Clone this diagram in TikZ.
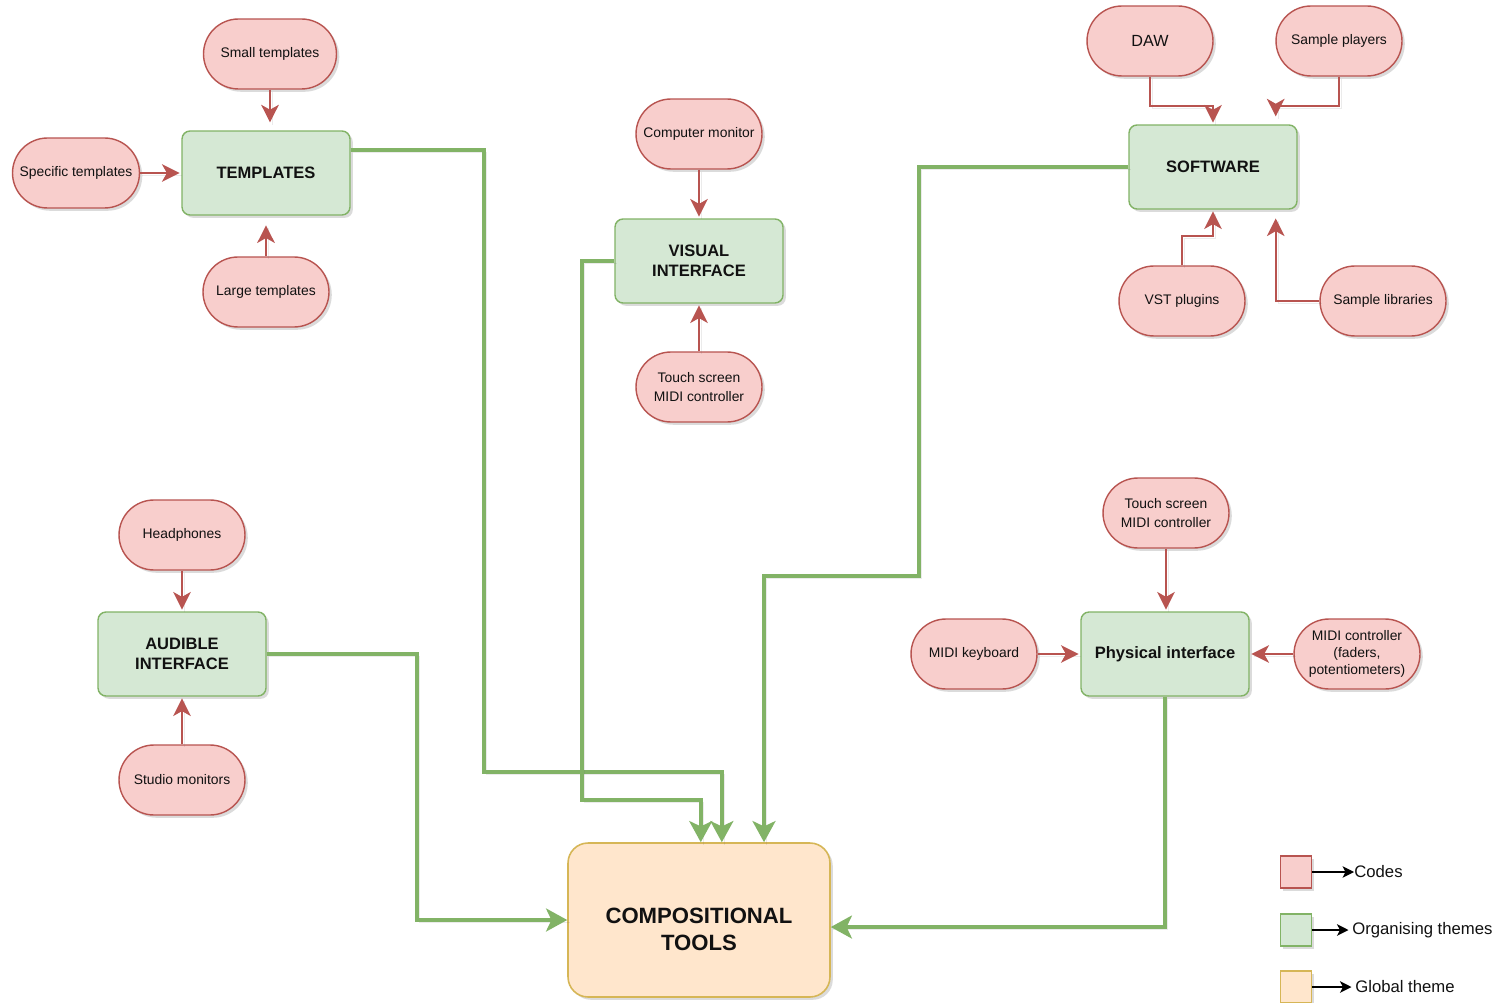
\documentclass[tikz,border=0pt]{standalone}
\usepackage{fontspec}
\setmainfont{Liberation Sans}
\usetikzlibrary{arrows.meta,shadows,calc}

\definecolor{codeFill}{HTML}{F8CECC}
\definecolor{codeLine}{HTML}{B85450}
\definecolor{themeFill}{HTML}{D5E8D4}
\definecolor{themeLine}{HTML}{82B366}
\definecolor{globalFill}{HTML}{FFE6CC}
\definecolor{globalLine}{HTML}{D6B656}
\definecolor{ink}{HTML}{111111}

\tikzset{
  softshadow/.style={drop shadow={shadow xshift=1.6pt, shadow yshift=-1.6pt, fill=black!50, opacity=0.28}},
  lineshadow/.style={preaction={draw=black!60, draw opacity=0.13, arrows=-,
    transform canvas={xshift=1.3pt,yshift=-1.3pt}}},
  code/.style={draw=codeLine, fill=codeFill, line width=0.8pt, rounded corners=0.7cm,
    minimum width=2.52cm, minimum height=1.4cm, inner sep=1pt, align=center,
    font=\fontsize{7.9}{11.3}\selectfont, text=ink, softshadow},
  theme/.style={draw=themeLine, fill=themeFill, line width=0.8pt, rounded corners=0.16cm,
    minimum width=3.36cm, minimum height=1.68cm, inner sep=1pt, align=center,
    font=\fontsize{9.4}{11.3}\selectfont\bfseries, text=ink, softshadow},
  global/.style={draw=globalLine, fill=globalFill, line width=0.9pt, rounded corners=0.4cm,
    minimum width=5.24cm, minimum height=3.08cm, align=center, softshadow},
  globaltext/.style={align=center, inner sep=0pt,
    font=\fontsize{12.6}{15.3}\selectfont\bfseries, text=ink},
  redarrow/.style={draw=codeLine, line width=1.3pt, shorten >=1pt, lineshadow,
    -{Stealth[length=10pt,width=10pt,inset=2.8pt]}},
  greenarrow/.style={draw=themeLine, line width=2.2pt, lineshadow,
    -{Stealth[length=12pt,width=13pt,inset=3pt]}},
  keybox/.style={draw=#1Line, fill=#1Fill, line width=0.7pt, minimum width=0.62cm,
    minimum height=0.64cm, inner sep=0pt, softshadow},
  keytext/.style={anchor=west, inner sep=0pt, font=\fontsize{9.5}{11}\selectfont, text=ink},
  keyarrow/.style={draw=black, line width=0.9pt, -{Stealth[length=6.5pt,width=6.5pt,inset=1.6pt]}}
}

\begin{document}
\begin{tikzpicture}[x=0.02cm,y=-0.02cm]
\fill[white] (0,0) rectangle (1501,1003);
\path[use as bounding box] (0,0) rectangle (1501,1003);

% templates cluster
\node[code, minimum width=2.66cm] (small) at (270,54) {Small templates};
\node[code, minimum width=2.54cm] (spec) at (76,173) {Specific templates};
\node[theme] (tpl) at (266,173) {TEMPLATES};
\node[code] (large) at (266,292) {Large templates};

% visual interface cluster
\node[code] (mon) at (699,134) {Computer monitor};
\node[theme] (vis) at (699,261) {VISUAL\\INTERFACE};
\node[code] (touchA) at (699,387) {Touch screen\\MIDI controller};

% software cluster
\node[code, font=\fontsize{9.2}{11}\selectfont] (daw) at (1150,41) {DAW};
\node[code] (splay) at (1339,41) {Sample players};
\node[theme] (sw) at (1213,167) {SOFTWARE};
\node[code] (vst) at (1182,301) {VST plugins};
\node[code] (slib) at (1383,301) {Sample libraries};

% audible interface cluster
\node[code] (head) at (182,535) {Headphones};
\node[theme] (aud) at (182,654) {AUDIBLE\\INTERFACE};
\node[code] (studio) at (182,780) {Studio monitors};

% physical interface cluster
\node[code] (touchB) at (1166,513) {Touch screen\\MIDI controller};
\node[code] (keyb) at (974,654) {MIDI keyboard};
\node[theme] (phys) at (1165,654) {Physical interface};
\node[code, font=\fontsize{7.9}{9.6}\selectfont] (midic) at (1357,654) {MIDI controller\\(faders,\\potentiometers)};

% global theme, its caption sits a little below the centre
\node[global] (comp) at (699,920) {};
\node[globaltext] (compText) at ([yshift=-5.5pt]comp.center) {COMPOSITIONAL\\TOOLS};

% codes feeding their themes
\draw[redarrow, shorten >=4.5pt] (small.south) -- (small.south |- tpl.north);
\draw[redarrow] (spec.east) -- (tpl.west);
\draw[redarrow, shorten >=5.5pt] (large.north) -- (tpl.south);
\draw[redarrow] (mon.south) -- (vis.north);
\draw[redarrow] (touchA.north) -- (vis.south);
\draw[redarrow] (daw.south) -- ++(0,29) -| (sw.north);
\draw[redarrow, shorten >=4.5pt] (splay.south) -- ++(0,29) -| ([xshift=35.7pt]sw.north);
\draw[redarrow] (vst.north) -- ++(0,-29) -| (sw.south);
\draw[redarrow, shorten >=5pt] (slib.west) -| ([xshift=35.7pt]sw.south);
\draw[redarrow] (head.south) -- (aud.north);
\draw[redarrow] (studio.north) -- (aud.south);
\draw[redarrow] (touchB.south) -- (touchB.south |- phys.north);
\draw[redarrow] (keyb.east) -- (phys.west);
\draw[redarrow] (midic.west) -- (phys.east);

% themes feeding the global theme
\draw[greenarrow] ([yshift=13pt]tpl.east) -| (484,772) -| ([xshift=13pt]comp.north);
\draw[greenarrow] (vis.west) -| (582,800) -| ([xshift=1pt]comp.north);
\draw[greenarrow] (sw.west) -| (919,576) -| ([xshift=37pt]comp.north);
\draw[greenarrow] (aud.east) -| (417,920) -- (comp.west);
\draw[greenarrow] (phys.south) |- ([yshift=-4pt]comp.east);

% legend
\node[keybox=code] (lgA) at (1296,872) {};
\node[keytext] (lgAt) at (1354,872) {Codes};
\draw[keyarrow] (lgA.east) -- (lgAt.west);
\node[keybox=theme] (lgB) at (1296,930) {};
\node[keytext] (lgBt) at (1352,930) {Organising themes};
\draw[keyarrow] (lgB.east) -- ([xshift=-2pt]lgBt.west);
\node[keybox=global] (lgC) at (1296,987) {};
\node[keytext] (lgCt) at (1355,987) {Global theme};
\draw[keyarrow] (lgC.east) -- ([xshift=-2pt]lgCt.west);
\end{tikzpicture}
\end{document}
